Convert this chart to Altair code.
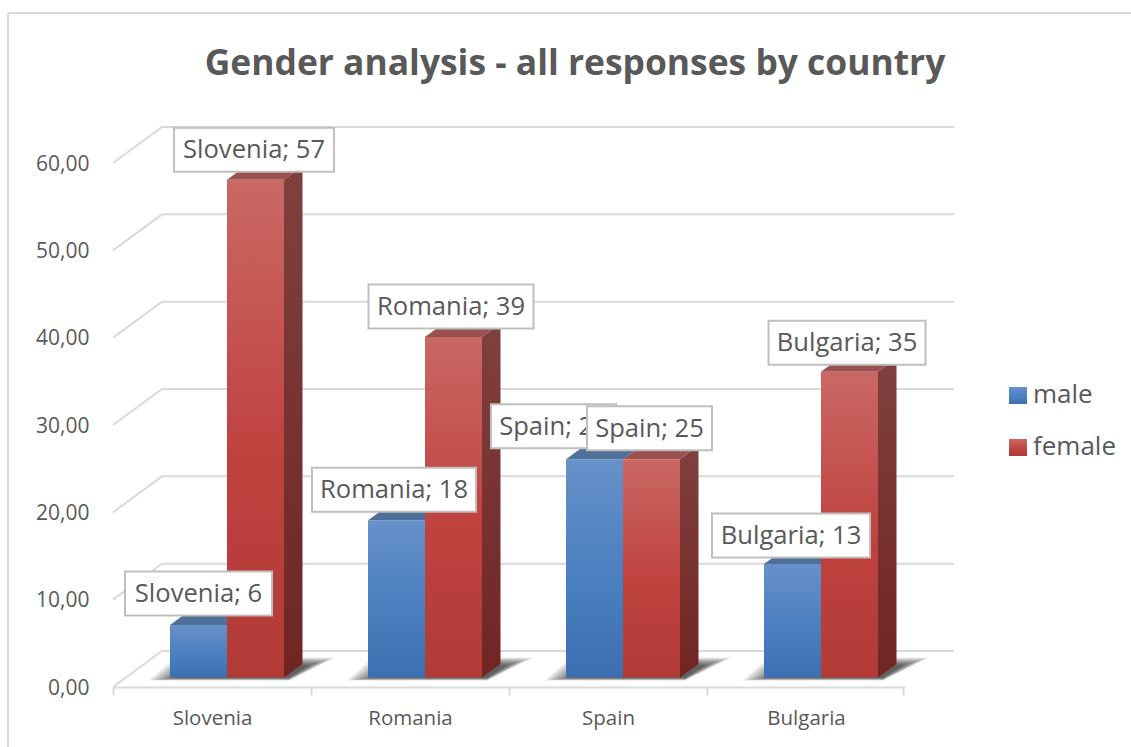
import altair as alt
import pandas as pd

# Chart values
categories = ["Slovenia", "Romania", "Spain", "Bulgaria"]
male_values = [6, 18, 25, 13]
female_values = [57, 39, 25, 35]
y_ticks = [0, 10, 20, 30, 40, 50, 60]
legend_names = ["male", "female"]

# Geometry of the plot, in pixels
PLOT_W, PLOT_H = 792, 524
LEFT, TOP = 113, 163
CAT_PX = PLOT_W / 4
UNIT_PX = PLOT_H / 60


def dx(px):
    return px / CAT_PX


def dy(px):
    return px / UNIT_PX


WALL_X, WALL_Y = dx(49), dy(36)
BAR_START, BAR_W = dx(57), dx(57)
DEPTH_X, DEPTH_Y = dx(18.5), dy(13.5)
LIFT = dy(9.5)

FONT = "Open Sans"
TEXT = "#595959"
LINE = "#d9d9d9"

x_scale = alt.Scale(domain=[0, 4], nice=False, zero=False)
y_scale = alt.Scale(domain=[0, 60], nice=False, zero=False)

label_lookup = "[" + ",".join(f"'{c}'" for c in categories) + "]"
x_axis = alt.Axis(
    values=[0, 1, 2, 3, 3.99], grid=False,
    domainColor=LINE, domainWidth=2,
    tickColor=LINE, tickWidth=2, tickSize=8,
    labelExpr=f"{label_lookup}[datum.value] || ''",
    labelOffset=CAT_PX / 2, labelPadding=13,
    labelFont=FONT, labelFontSize=20.5, labelColor=TEXT,
    labelOverlap=False, labelBound=False, labelFlush=False,
)
y_axis = alt.Axis(
    values=y_ticks, grid=False, domain=False, ticks=False,
    labelExpr="replace(format(datum.value, '.2f'), '.', ',')",
    labelPadding=24, labelOffset=1,
    labelFont=FONT, labelFontSize=21, labelColor=TEXT,
    labelOverlap=False, labelBound=False, labelFlush=False,
)


def X(field="x"):
    return alt.X(f"{field}:Q", scale=x_scale, axis=x_axis, title=None)


def Y(field="y"):
    return alt.Y(f"{field}:Q", scale=y_scale, axis=y_axis, title=None)


def gradient(*stops):
    return alt.Gradient(
        gradient="linear",
        x1=0, x2=0, y1=0, y2=1,
        stops=[alt.GradientStop(offset=o, color=c) for o, c in stops],
    )


MALE_FRONT = gradient((0, "#6791c9"), (0.55, "#4a7fc0"), (1, "#3b6fb1"))
FEMALE_FRONT = gradient((0, "#ca6864"), (0.55, "#c0423f"), (1, "#b13a37"))
FEMALE_SIDE = gradient((0, "#80403f"), (1, "#702523"))
MALE_TOP = "#4f7099"
FEMALE_TOP = "#9a5150"

# Back wall and floor lines: a diagonal up the side wall, then along the back
grid_rows = []
for v in y_ticks:
    grid_rows += [
        {"v": v, "x": 0, "y": v},
        {"v": v, "x": WALL_X, "y": v + WALL_Y},
        {"v": v, "x": 4 + WALL_X, "y": v + WALL_Y},
    ]
grid = (
    alt.Chart(pd.DataFrame(grid_rows))
    .mark_line(color=LINE, strokeWidth=2)
    .encode(x=X(), y=Y(), detail="v:N")
)

# Soft floor shadow built up from nested parallelograms
shadow_rows = []
for i, _ in enumerate(categories):
    for step in range(10):
        ins = step * 3
        low = LIFT - dy(3) + dy(ins * 0.1)
        high = LIFT + dy(20) - dy(ins * 0.3)
        shadow_rows += [
            {"id": f"{i}-{step}", "step": step, "y": low,
             "x": i + dx(36 + ins), "x2": i + dx(176)},
            {"id": f"{i}-{step}", "step": step, "y": high,
             "x": i + dx(62 + ins), "x2": i + dx(222 - ins)},
        ]
shadow = (
    alt.Chart(pd.DataFrame(shadow_rows))
    .mark_area(orient="horizontal", color="#000000", opacity=0.09)
    .encode(x=X("x"), x2="x2:Q", y=Y("y"), detail="id:N")
)


def front(values, offset, fill):
    df = pd.DataFrame({
        "x": [i + BAR_START + offset for i in range(4)],
        "x2": [i + BAR_START + offset + BAR_W for i in range(4)],
        "y": [LIFT] * 4,
        "y2": [LIFT + v for v in values],
    })
    return alt.Chart(df).mark_rect(color=fill).encode(
        x=X("x"), x2="x2:Q", y=Y("y"), y2="y2:Q"
    )


def top_face(values, offset, fill):
    rows = []
    for i, v in enumerate(values):
        left = i + BAR_START + offset
        rows += [
            {"id": i, "y": LIFT + v, "x": left, "x2": left + BAR_W},
            {"id": i, "y": LIFT + v + DEPTH_Y,
             "x": left + DEPTH_X, "x2": left + BAR_W + DEPTH_X},
        ]
    return alt.Chart(pd.DataFrame(rows)).mark_area(orient="horizontal", color=fill).encode(
        x=X("x"), x2="x2:Q", y=Y("y"), detail="id:N"
    )


def side_face(values, offset, fill):
    rows = []
    for i, v in enumerate(values):
        right = i + BAR_START + offset + BAR_W
        rows += [
            {"id": i, "x": right, "y": LIFT, "y2": LIFT + v},
            {"id": i, "x": right + DEPTH_X, "y": LIFT + DEPTH_Y, "y2": LIFT + v + DEPTH_Y},
        ]
    return alt.Chart(pd.DataFrame(rows)).mark_area(color=fill).encode(
        x=X("x"), y=Y("y"), y2="y2:Q", detail="id:N"
    )


bars = [
    top_face(male_values, 0, MALE_TOP),
    front(male_values, 0, MALE_FRONT),
    top_face(female_values, BAR_W, FEMALE_TOP),
    side_face(female_values, BAR_W, FEMALE_SIDE),
    front(female_values, BAR_W, FEMALE_FRONT),
]

# Data callouts: box widths and nudges per callout
BOX_H = 44
male_boxes = {"shift": [0, -2.5, -41, -1.5], "lift": [31.5, 30.5, 33, 28.5],
              "width": [147, 164, 125, 158]}
female_boxes = {"shift": [-1.5, -2.5, -2, -2.5], "lift": [30, 30.5, 31, 29],
                "width": [160, 165, 125, 157]}


def callouts(values, offset, boxes):
    rows = []
    for i, v in enumerate(values):
        cx = i + BAR_START + offset + BAR_W / 2 + dx(boxes["shift"][i])
        cy = LIFT + v + dy(boxes["lift"][i])
        half = dx(boxes["width"][i] / 2)
        rows.append({
            "x": cx, "xa": cx - half, "xb": cx + half,
            "y": cy, "ya": cy - dy(BOX_H / 2), "yb": cy + dy(BOX_H / 2),
            "text": f"{categories[i]}; {v}",
        })
    df = pd.DataFrame(rows)
    box = alt.Chart(df).mark_rect(
        fill="#ffffff", stroke="#bfbfbf", strokeWidth=2
    ).encode(x=X("xa"), x2="xb:Q", y=Y("ya"), y2="yb:Q")
    label = alt.Chart(df).mark_text(
        font=FONT, fontSize=25.6, color=TEXT, align="center", baseline="middle", dy=0.5
    ).encode(x=X("x"), y=Y("y"), text="text:N")
    return [box, label]


labels = callouts(male_values, 0, male_boxes) + callouts(female_values, BAR_W, female_boxes)

# Legend keys and names
legend_layers = []
for name, fill, key_top in zip(
    legend_names,
    [gradient((0, "#6791c9"), (0.6, "#4a7fc0"), (1, "#3b6fb1")),
     gradient((0, "#ca6864"), (0.6, "#c0423f"), (1, "#b13a37"))],
    [387, 439],
):
    entry = pd.DataFrame({"name": [name]})
    legend_layers.append(
        alt.Chart(entry).mark_rect(color=fill).encode(
            x=alt.value(1009 - LEFT), x2=alt.value(1027 - LEFT),
            y=alt.value(key_top - TOP), y2=alt.value(key_top + 17 - TOP),
        )
    )
    legend_layers.append(
        alt.Chart(entry).mark_text(
            font=FONT, fontSize=26, color=TEXT, align="left", baseline="middle"
        ).encode(
            x=alt.value(1033 - LEFT), y=alt.value(key_top + 8 - TOP), text="name:N"
        )
    )

# Chart frame: top and left edges
frame_top = alt.Chart(pd.DataFrame({"e": [0]})).mark_rule(color=LINE, strokeWidth=2).encode(
    x=alt.value(8 - LEFT), x2=alt.value(1131 - LEFT), y=alt.value(13 - TOP)
)
frame_left = alt.Chart(pd.DataFrame({"e": [0]})).mark_rule(color=LINE, strokeWidth=2).encode(
    y=alt.value(13 - TOP), y2=alt.value(747 - TOP), x=alt.value(8 - LEFT)
)

chart = alt.layer(
    frame_top, frame_left, grid, shadow, *bars, *labels, *legend_layers
).properties(
    width=PLOT_W,
    height=PLOT_H,
    padding={"left": LEFT, "top": TOP, "right": 1131 - LEFT - PLOT_W, "bottom": 747 - TOP - PLOT_H},
    autosize=alt.AutoSizeParams(type="none"),
    background="#ffffff",
    title=alt.TitleParams(
        "Gender analysis - all responses by country",
        anchor="middle", dx=66, offset=-70,
        font=FONT, fontSize=35.4, fontWeight="bold", color=TEXT,
    ),
).configure_view(stroke=None)

chart.save("out.html", embed_options={"renderer": "svg", "actions": False})
